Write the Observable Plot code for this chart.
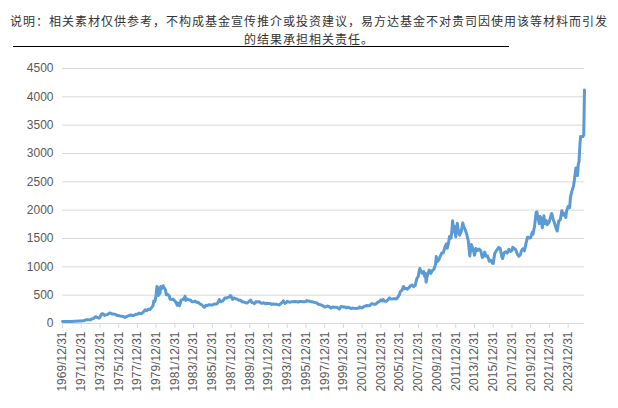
<!DOCTYPE html>
<html><head><meta charset="utf-8">
<script src="https://cdn.jsdelivr.net/npm/d3@7"></script>
<script src="https://cdn.jsdelivr.net/npm/@observablehq/plot@0.6"></script>
<style>
body{margin:0;background:#fff;width:618px;height:408px;overflow:hidden;position:relative;font-family:"Noto Sans CJK SC",sans-serif}
.t{position:absolute;left:0;width:618px;text-align:center;font-size:12px;letter-spacing:1px;line-height:17px;height:17px;color:#333;white-space:nowrap}
#t1{top:12px}
#t2{top:30px}
#rule{position:absolute;left:13px;top:46px;width:496px;height:1px;background:#000}
#chart{position:absolute;left:0;top:48px}
</style></head><body>
<div class="t" id="t1">说明：相关素材仅供参考，不构成基金宣传推介或投资建议，易方达基金不对贵司因使用该等材料而引发</div>
<div class="t" id="t2">的结果承担相关责任。</div>
<div id="rule"></div>
<div id="chart"></div>
<script>
const months = [
"1969-12","1970-03","1970-06","1970-09","1970-12","1971-03","1971-06","1971-09","1971-12",
"1972-03","1972-06","1972-08","1972-10","1972-12","1973-02","1973-04","1973-06","1973-07","1973-09","1973-11","1973-12",
"1974-02","1974-04","1974-06","1974-08","1974-10","1974-12","1975-02","1975-04","1975-06","1975-08","1975-10","1975-12",
"1976-02","1976-04","1976-06","1976-08","1976-10","1976-12","1977-02","1977-04","1977-06","1977-08","1977-10","1977-12",
"1978-02","1978-04","1978-06","1978-08","1978-10","1978-12","1979-02","1979-04","1979-06","1979-08","1979-09","1979-10","1979-11","1979-12",
"1980-01","1980-02","1980-03","1980-04","1980-05","1980-06","1980-07","1980-08","1980-09","1980-10","1980-11","1980-12",
"1981-01","1981-03","1981-05","1981-06","1981-08","1981-10","1981-12","1982-02","1982-03","1982-04","1982-06","1982-08","1982-10","1982-12",
"1983-01","1983-02","1983-04","1983-06","1983-08","1983-10","1983-12","1984-02","1984-04","1984-06","1984-08","1984-10","1984-12",
"1985-02","1985-04","1985-06","1985-08","1985-10","1985-12","1986-02","1986-04","1986-06","1986-08","1986-09","1986-11","1986-12",
"1987-02","1987-04","1987-06","1987-08","1987-10","1987-11","1987-12","1988-02","1988-04","1988-06","1988-08","1988-10","1988-12",
"1989-02","1989-04","1989-06","1989-08","1989-10","1989-12","1990-01","1990-03","1990-05","1990-06","1990-08","1990-10","1990-12",
"1991-02","1991-04","1991-06","1991-08","1991-10","1991-12","1992-02","1992-04","1992-06","1992-08","1992-10","1992-12",
"1993-02","1993-04","1993-06","1993-07","1993-09","1993-11","1993-12","1994-02","1994-04","1994-06","1994-08","1994-10","1994-12",
"1995-02","1995-04","1995-06","1995-08","1995-10","1995-12","1996-01","1996-03","1996-05","1996-07","1996-09","1996-11","1996-12",
"1997-02","1997-04","1997-06","1997-08","1997-10","1997-12","1998-02","1998-04","1998-06","1998-08","1998-10","1998-12",
"1999-02","1999-04","1999-06","1999-07","1999-09","1999-10","1999-12","2000-02","2000-04","2000-06","2000-08","2000-10","2000-12",
"2001-02","2001-04","2001-06","2001-08","2001-09","2001-11","2001-12","2002-02","2002-04","2002-06","2002-08","2002-10","2002-12",
"2003-02","2003-04","2003-06","2003-08","2003-10","2003-12","2004-02","2004-03","2004-05","2004-07","2004-09","2004-11","2004-12",
"2005-02","2005-04","2005-06","2005-08","2005-10","2005-12","2006-01","2006-03","2006-05","2006-06","2006-08","2006-10","2006-12",
"2007-02","2007-04","2007-06","2007-08","2007-10","2007-12","2008-01","2008-02","2008-03","2008-05","2008-07","2008-08","2008-09","2008-10","2008-11","2008-12",
"2009-02","2009-04","2009-06","2009-08","2009-10","2009-11","2009-12","2010-02","2010-04","2010-06","2010-08","2010-10","2010-12",
"2011-01","2011-03","2011-04","2011-06","2011-07","2011-08","2011-09","2011-10","2011-12","2012-02","2012-03","2012-05","2012-07","2012-09","2012-10","2012-12",
"2013-02","2013-04","2013-06","2013-08","2013-10","2013-12","2014-02","2014-04","2014-06","2014-08","2014-10","2014-12",
"2015-01","2015-03","2015-05","2015-07","2015-09","2015-11","2015-12","2016-02","2016-04","2016-06","2016-07","2016-09","2016-11","2016-12",
"2017-02","2017-04","2017-06","2017-08","2017-10","2017-12","2018-01","2018-03","2018-05","2018-07","2018-09","2018-11","2018-12",
"2019-02","2019-04","2019-06","2019-08","2019-10","2019-12","2020-02","2020-03","2020-05","2020-07","2020-08","2020-09","2020-11","2020-12",
"2021-01","2021-03","2021-05","2021-06","2021-08","2021-09","2021-11","2021-12","2022-02","2022-03","2022-05","2022-07","2022-09","2022-10","2022-12",
"2023-02","2023-04","2023-06","2023-08","2023-09","2023-10","2023-12","2024-02","2024-03","2024-05","2024-07","2024-09","2024-10","2024-11","2024-12",
"2025-01","2025-02","2025-03","2025-04","2025-05","2025-06","2025-07","2025-08","2025-09"
];
const prices = [
35,36,35,36,37,39,40,42,44,
48,65,67,65,65,84,90,120,120,103,94,112,
168,172,143,154,158,186,180,167,166,160,143,140,
132,128,123,104,123,135,144,149,141,146,162,165,
183,170,183,208,242,226,251,245,277,315,397,382,415,512,
653,637,494,518,535,653,614,631,667,629,619,590,
506,513,480,426,425,427,397,362,320,361,315,411,421,448,
481,408,430,417,414,382,382,395,372,373,348,334,309,
287,322,317,333,326,327,339,345,346,384,423,383,391,
405,451,447,461,468,492,484,426,451,436,430,412,410,
388,378,373,360,375,401,415,368,363,352,387,379,386,
363,357,367,348,358,353,353,337,343,341,339,333,
327,354,378,402,356,370,391,381,376,385,385,389,383,
377,389,387,383,383,387,405,396,391,385,379,372,369,
362,340,334,325,311,290,297,309,296,273,292,288,
287,286,261,255,300,299,290,293,276,288,277,264,272,
267,264,270,273,293,275,277,296,308,318,313,317,347,
347,336,346,375,386,417,397,424,394,391,416,453,435,
434,435,437,433,470,513,569,582,653,613,623,604,632,
665,680,650,673,789,834,923,971,933,886,918,834,884,730,815,869,
942,884,934,955,1040,1182,1088,1116,1180,1244,1246,1346,1405,
1327,1439,1535,1505,1628,1813,1620,1722,1531,1770,1662,1558,1622,1776,1720,1657,
1578,1469,1192,1394,1324,1204,1326,1288,1315,1285,1164,1199,
1260,1187,1190,1098,1114,1061,1060,1234,1285,1320,1342,1322,1178,1146,
1248,1266,1242,1311,1271,1291,1345,1323,1298,1224,1187,1217,1279,
1319,1283,1409,1523,1510,1515,1609,1577,1715,1962,1970,1886,1762,1887,
1864,1691,1900,1763,1815,1743,1774,1806,1900,1942,1837,1754,1660,1633,1812,
1827,1990,1912,1942,1871,1983,2063,2044,2230,2343,2427,2634,2744,2650,2609,
2812,2858,3122,3300,3290,3300,3300,3330,4120
];
const yTicks = [0,500,1000,1500,2000,2500,3000,3500,4000,4500];
const tickLabels = ["1969/12/31","1971/12/31","1973/12/31","1975/12/31","1977/12/31","1979/12/31","1981/12/31","1983/12/31","1985/12/31","1987/12/31","1989/12/31","1991/12/31","1993/12/31","1995/12/31","1997/12/31","1999/12/31","2001/12/31","2003/12/31","2005/12/31","2007/12/31","2009/12/31","2011/12/31","2013/12/31","2015/12/31","2017/12/31","2019/12/31","2021/12/31","2023/12/31"];

const monthEnd = s => { const [y, m] = s.split("-").map(Number); return new Date(Date.UTC(y, m, 0)); };
const data = months.map((s, i) => ({date: monthEnd(s), value: prices[i]}));
const tickDates = tickLabels.map(s => { const [y, m, d] = s.split("/").map(Number); return new Date(Date.UTC(y, m - 1, d)); });
const fmt = d3.utcFormat("%Y/%m/%d");

const chart = Plot.plot({
  width: 618, height: 360,
  marginTop: 20, marginBottom: 85, marginLeft: 62, marginRight: 34,
  style: {fontFamily: "'Liberation Sans', Arial, sans-serif", fontSize: "12px", color: "#595959", background: "#fff"},
  x: {type: "utc", domain: [data[0].date, data[data.length - 1].date]},
  y: {domain: [0, 4500]},
  marks: [
    Plot.gridY(yTicks, {stroke: "#d9d9d9", strokeOpacity: 1}),
    Plot.ruleY([0], {stroke: "#d9d9d9"}),
    Plot.axisY(yTicks, {tickSize: 0, tickPadding: 9, label: null, fill: "#595959", tickFormat: d => String(d)}),
    Plot.axisX(tickDates, {tickRotate: -90, tickSize: 5, tickPadding: 3, tickFormat: fmt, label: null, stroke: "#d9d9d9", fill: "#595959"}),
    Plot.line(data, {x: "date", y: "value", stroke: "#5b9bd5", strokeWidth: 3, strokeLinejoin: "round", strokeLinecap: "round"})
  ]
});
document.getElementById("chart").appendChild(chart);
</script></body></html>
